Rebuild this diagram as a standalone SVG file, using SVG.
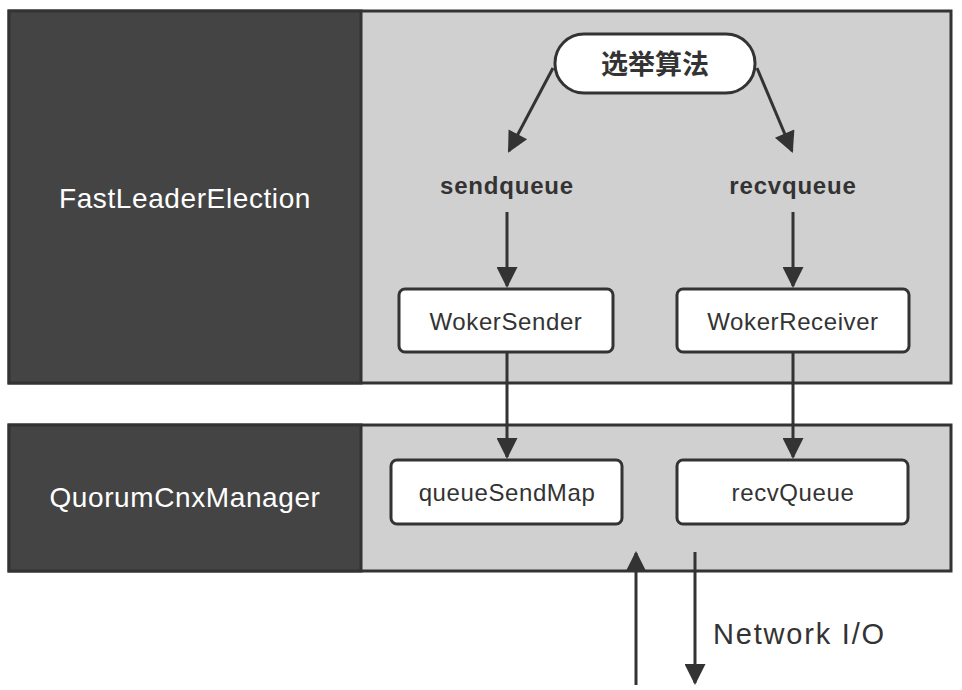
<svg xmlns="http://www.w3.org/2000/svg" width="962" height="690" viewBox="0 0 962 690">
<style>
.dark{fill:#444444;stroke:#333333;stroke-width:3}
.light{fill:#d0d0d0;stroke:#333333;stroke-width:3}
.node{fill:#ffffff;stroke:#333333;stroke-width:3}
.big{font-family:"Liberation Sans",Arial,sans-serif;font-size:28px;letter-spacing:0.6px;fill:#ffffff;text-anchor:middle}
.lbl{font-family:"Liberation Sans",Arial,sans-serif;font-size:24px;letter-spacing:0.6px;fill:#333333;text-anchor:middle}
.bold{font-family:"Liberation Sans",Arial,sans-serif;font-size:24px;letter-spacing:0.8px;font-weight:bold;fill:#333333;text-anchor:middle}
.cjk{font-family:"Liberation Sans","Noto Sans CJK SC",sans-serif;font-size:27px;font-weight:bold;fill:#333333;text-anchor:middle}
.edge{stroke:#333333;stroke-width:3;fill:none;marker-end:url(#ah)}
</style>
<defs>
<marker id="ah" viewBox="0 0 10 10" refX="9" refY="5" markerWidth="8" markerHeight="7" orient="auto" markerUnits="strokeWidth">
<path d="M0,0 L10,5 L0,10 z" fill="#333333"/>
</marker>
</defs>
<rect width="962" height="690" fill="#ffffff"/>
<g id="fastleaderelection">
<rect class="light" x="9" y="11" width="942" height="372"/>
<rect class="dark" x="9" y="11" width="352" height="372"/>
<text class="big" x="185" y="208">FastLeaderElection</text>
</g>
<g id="quorumcnxmanager">
<rect class="light" x="9" y="425" width="942" height="146"/>
<rect class="dark" x="9" y="425" width="352" height="146"/>
<text class="big" x="185" y="507">QuorumCnxManager</text>
</g>
<g id="election-algo">
<rect class="node" x="555" y="34" width="200" height="59" rx="29"/>
<text class="cjk" x="655" y="74">选举算法</text>
</g>
<g id="sendqueue"><text class="bold" x="507" y="194">sendqueue</text></g>
<g id="recvqueue"><text class="bold" x="793" y="194">recvqueue</text></g>
<g id="wokersender">
<rect class="node" x="399" y="289" width="214" height="63" rx="6"/>
<text class="lbl" x="506" y="330">WokerSender</text>
</g>
<g id="wokerreceiver">
<rect class="node" x="677" y="289" width="232" height="63" rx="6"/>
<text class="lbl" x="793" y="330">WokerReceiver</text>
</g>
<g id="queuesendmap">
<rect class="node" x="391" y="460" width="231" height="64" rx="6"/>
<text class="lbl" x="507" y="501">queueSendMap</text>
</g>
<g id="recvqueue2">
<rect class="node" x="677" y="460" width="231" height="64" rx="6"/>
<text class="lbl" x="793" y="501">recvQueue</text>
</g>
<g id="network-label"><text class="lbl" x="713" y="644" style="text-anchor:start;font-size:29px;letter-spacing:1.8px">Network I/O</text></g>
<g id="connectors">
<path class="edge" d="M553,68 L509,151"/>
<path class="edge" d="M757,68 L792,151"/>
<path class="edge" d="M507,212 L507,286"/>
<path class="edge" d="M793,212 L793,286"/>
<path class="edge" d="M507,352 L507,457"/>
<path class="edge" d="M793,352 L793,457"/>
<path class="edge" d="M636,685 L636,553"/>
<path class="edge" d="M695,552 L695,683"/>
</g>
</svg>
